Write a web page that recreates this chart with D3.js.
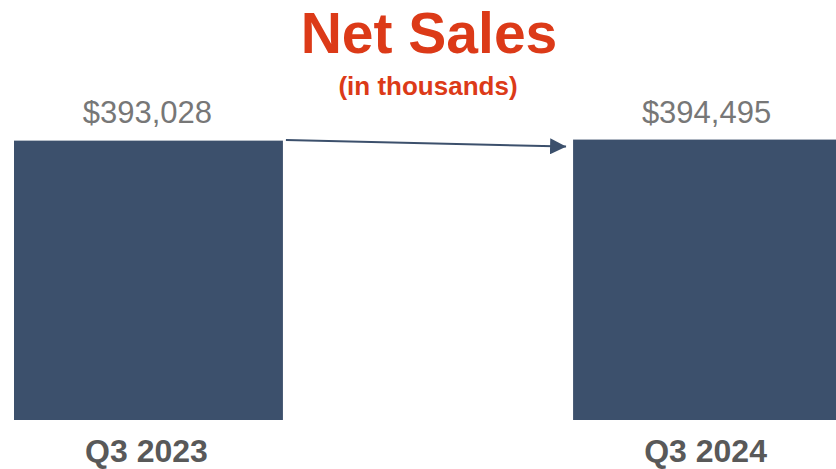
<!DOCTYPE html>
<html>
<head>
<meta charset="utf-8">
<script src="https://cdn.jsdelivr.net/npm/d3@7"></script>
<style>
  html, body { margin: 0; padding: 0; background: #fff; overflow: hidden; }
  svg { display: block; font-family: Arial, "Liberation Sans", sans-serif; }
</style>
</head>
<body>
<div id="chart"></div>
<script>
const categories = ['Q3 2023', 'Q3 2024'];
const netSales = [393028, 394495];
const valueLabels = ['$393,028', '$394,495'];
const title = 'Net Sales';
const subtitle = '(in thousands)';

const width = 836;
const height = 469;
const barColor = '#3c506c';

const svg = d3
  .select('#chart')
  .append('svg')
  .attr('width', width)
  .attr('height', height);

const x = d3
  .scaleBand()
  .domain(categories)
  .range([14, 842])
  .paddingInner(0.519)
  .paddingOuter(0);

const y = d3.scaleLinear().domain([0, 392500]).range([420, 141]);

// bars
svg
  .selectAll('rect.bar')
  .data(netSales)
  .enter()
  .append('rect')
  .attr('class', 'bar')
  .attr('x', (d, i) => x(categories[i]))
  .attr('y', d => y(d))
  .attr('width', x.bandwidth())
  .attr('height', d => y(0) - y(d))
  .attr('fill', barColor);

// value labels above bars
svg
  .selectAll('text.value')
  .data(netSales)
  .enter()
  .append('text')
  .attr('class', 'value')
  .attr('x', (d, i) => x(categories[i]) + x.bandwidth() / 2 - 1)
  .attr('y', 123)
  .attr('text-anchor', 'middle')
  .attr('font-size', 31)
  .attr('fill', '#777777')
  .text((d, i) => valueLabels[i]);

// category labels
svg
  .selectAll('text.cat')
  .data(categories)
  .enter()
  .append('text')
  .attr('class', 'cat')
  .attr('x', d => x(d) + x.bandwidth() / 2 - 2)
  .attr('y', 462)
  .attr('text-anchor', 'middle')
  .attr('font-size', 32)
  .attr('font-weight', 'bold')
  .attr('fill', '#595959')
  .text(d => d);

// title
svg
  .append('text')
  .attr('x', 429)
  .attr('y', 53)
  .attr('text-anchor', 'middle')
  .attr('font-size', 57)
  .attr('font-weight', 'bold')
  .attr('fill', '#dc3a18')
  .text(title);

svg
  .append('text')
  .attr('x', 428)
  .attr('y', 95)
  .attr('text-anchor', 'middle')
  .attr('font-size', 26)
  .attr('font-weight', 'bold')
  .attr('fill', '#dc3a18')
  .text(subtitle);

// arrow from first bar to second
svg
  .append('defs')
  .append('marker')
  .attr('id', 'head')
  .attr('viewBox', '0 0 10 10')
  .attr('refX', 10)
  .attr('refY', 5)
  .attr('markerUnits', 'userSpaceOnUse')
  .attr('markerWidth', 16)
  .attr('markerHeight', 16)
  .attr('orient', 'auto')
  .append('path')
  .attr('d', 'M0,0L10,5L0,10Z')
  .attr('fill', barColor);

const x0 = x(categories[0]) + x.bandwidth() + 3;
const x1 = x(categories[1]) - 7;
svg
  .append('line')
  .attr('x1', x0)
  .attr('y1', y(netSales[0]) - 0.5)
  .attr('x2', x1)
  .attr('y2', y(netSales[0]) + 6)
  .attr('stroke', barColor)
  .attr('stroke-width', 2)
  .attr('marker-end', 'url(#head)');
</script>
</body>
</html>
